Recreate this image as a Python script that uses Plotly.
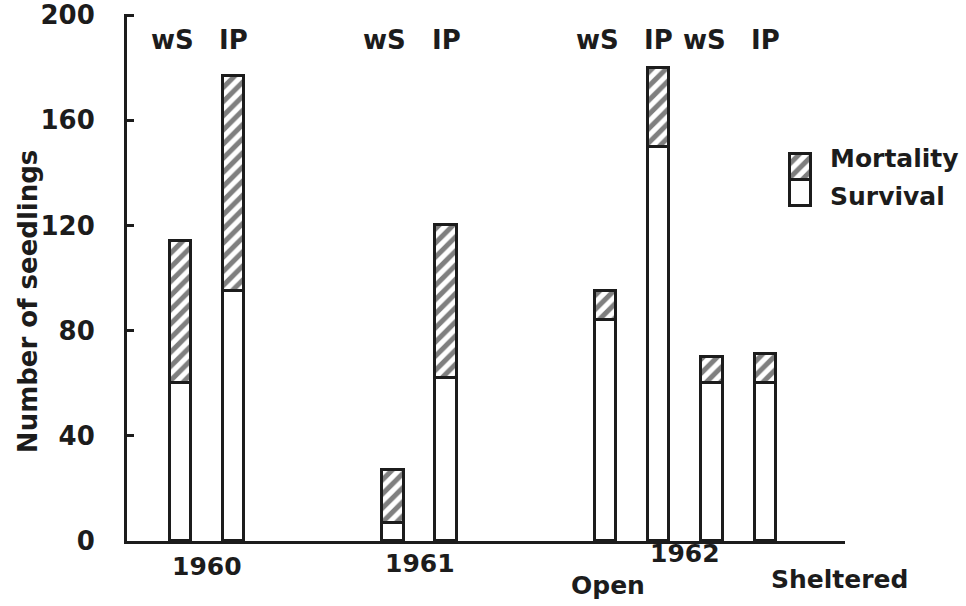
import plotly.graph_objects as go

# Seedling counts per plot: survival plus mortality gives the total sown
slots = [1, 2, 5, 6, 9, 10, 11, 12]
species = ["wS", "IP", "wS", "IP", "wS", "IP", "wS", "IP"]
survival = [60, 95, 7, 62, 84, 150, 60, 60]
mortality = [54, 82, 20, 58, 11, 30, 10, 11]

year_labels = ["1960", "1961", "1962"]
year_slots = [1.5, 5.5, 10.5]
site_labels = ["Open", "Sheltered"]
site_slots = [9.05, 13.4]
y_ticks = [0, 40, 80, 120, 160, 200]

INK = "#1c1c1c"
FONT = dict(family="DejaVu Sans", size=25, color=INK, weight="bold")
HATCH = dict(shape="/", fgcolor="#000000", bgcolor="white", size=10, solidity=0.5)
BAR_W = 0.4

fig = go.Figure()

fig.add_trace(go.Bar(
    x=slots, y=survival, width=BAR_W, name="Survival",
    marker=dict(color="white", line=dict(color=INK, width=3)),
    showlegend=False,
))
fig.add_trace(go.Bar(
    x=slots, y=mortality, width=BAR_W, name="Mortality",
    marker=dict(color="white", pattern=HATCH, line=dict(color=INK, width=3)),
    showlegend=False,
))

# Key: one small stacked box drawn on its own little axes
fig.add_trace(go.Bar(
    x=[0], y=[1], width=1, xaxis="x2", yaxis="y2",
    marker=dict(color="white", line=dict(color=INK, width=3)),
    showlegend=False, hoverinfo="skip",
))
fig.add_trace(go.Bar(
    x=[0], y=[1], width=1, xaxis="x2", yaxis="y2",
    marker=dict(color="white", pattern=HATCH, line=dict(color=INK, width=3)),
    showlegend=False, hoverinfo="skip",
))

annotations = []
# species labels above each bar
for s, sp in zip(slots, species):
    annotations.append(dict(
        x=s - (0.15 if sp == "wS" else 0.0), y=0.95, xref="x", yref="paper",
        text=sp, showarrow=False, font=dict(FONT, size=26), xanchor="center", yanchor="middle",
    ))
# year labels below the axis
year_y = [-0.049, -0.042, -0.023]
for s, lab, yy in zip(year_slots, year_labels, year_y):
    annotations.append(dict(
        x=s, y=yy, xref="x", yref="paper", text=lab, showarrow=False,
        font=FONT, xanchor="center", yanchor="middle",
    ))
site_y = [-0.084, -0.074]
for s, lab, yy in zip(site_slots, site_labels, site_y):
    annotations.append(dict(
        x=s, y=yy, xref="x", yref="paper", text=lab, showarrow=False,
        font=FONT, xanchor="center", yanchor="middle",
    ))
# key text
annotations.append(dict(x=0.976, y=0.725, xref="paper", yref="paper", text="Mortality",
                        showarrow=False, font=FONT, xanchor="left", yanchor="middle"))
annotations.append(dict(x=0.976, y=0.653, xref="paper", yref="paper", text="Survival",
                        showarrow=False, font=FONT, xanchor="left", yanchor="middle"))
# y-axis title
annotations.append(dict(x=-0.138, y=0.455, xref="paper", yref="paper",
                        text="Number of seedlings", textangle=-90, showarrow=False,
                        font=dict(FONT, size=26), xanchor="center", yanchor="middle"))

fig.update_layout(
    width=966, height=606,
    margin=dict(l=127, r=121, t=14, b=65, autoexpand=False),
    paper_bgcolor="white", plot_bgcolor="white",
    barmode="stack",
    bargap=0,
    font=FONT,
    annotations=annotations,
    xaxis=dict(
        range=[0, 13.5], showline=True, linewidth=3, linecolor=INK,
        showticklabels=False, ticks="", showgrid=False, zeroline=False,
        automargin=False,
    ),
    yaxis=dict(
        range=[0, 200.4], tickvals=y_ticks, showline=True, linewidth=3, linecolor=INK,
        ticks="inside", ticklen=7, tickwidth=2.5, tickcolor=INK,
        tickfont=dict(family="DejaVu Sans", size=26, color=INK, weight="bold"),
        ticklabelstandoff=24, showgrid=False, zeroline=False, automargin=False,
    ),
    xaxis2=dict(domain=[0.9206, 0.9557], range=[-0.6, 0.6], anchor="y2", visible=False),
    yaxis2=dict(domain=[0.6307, 0.7393], range=[-0.1, 2.1], anchor="x2", visible=False),
)

fig.write_html("out.html")
